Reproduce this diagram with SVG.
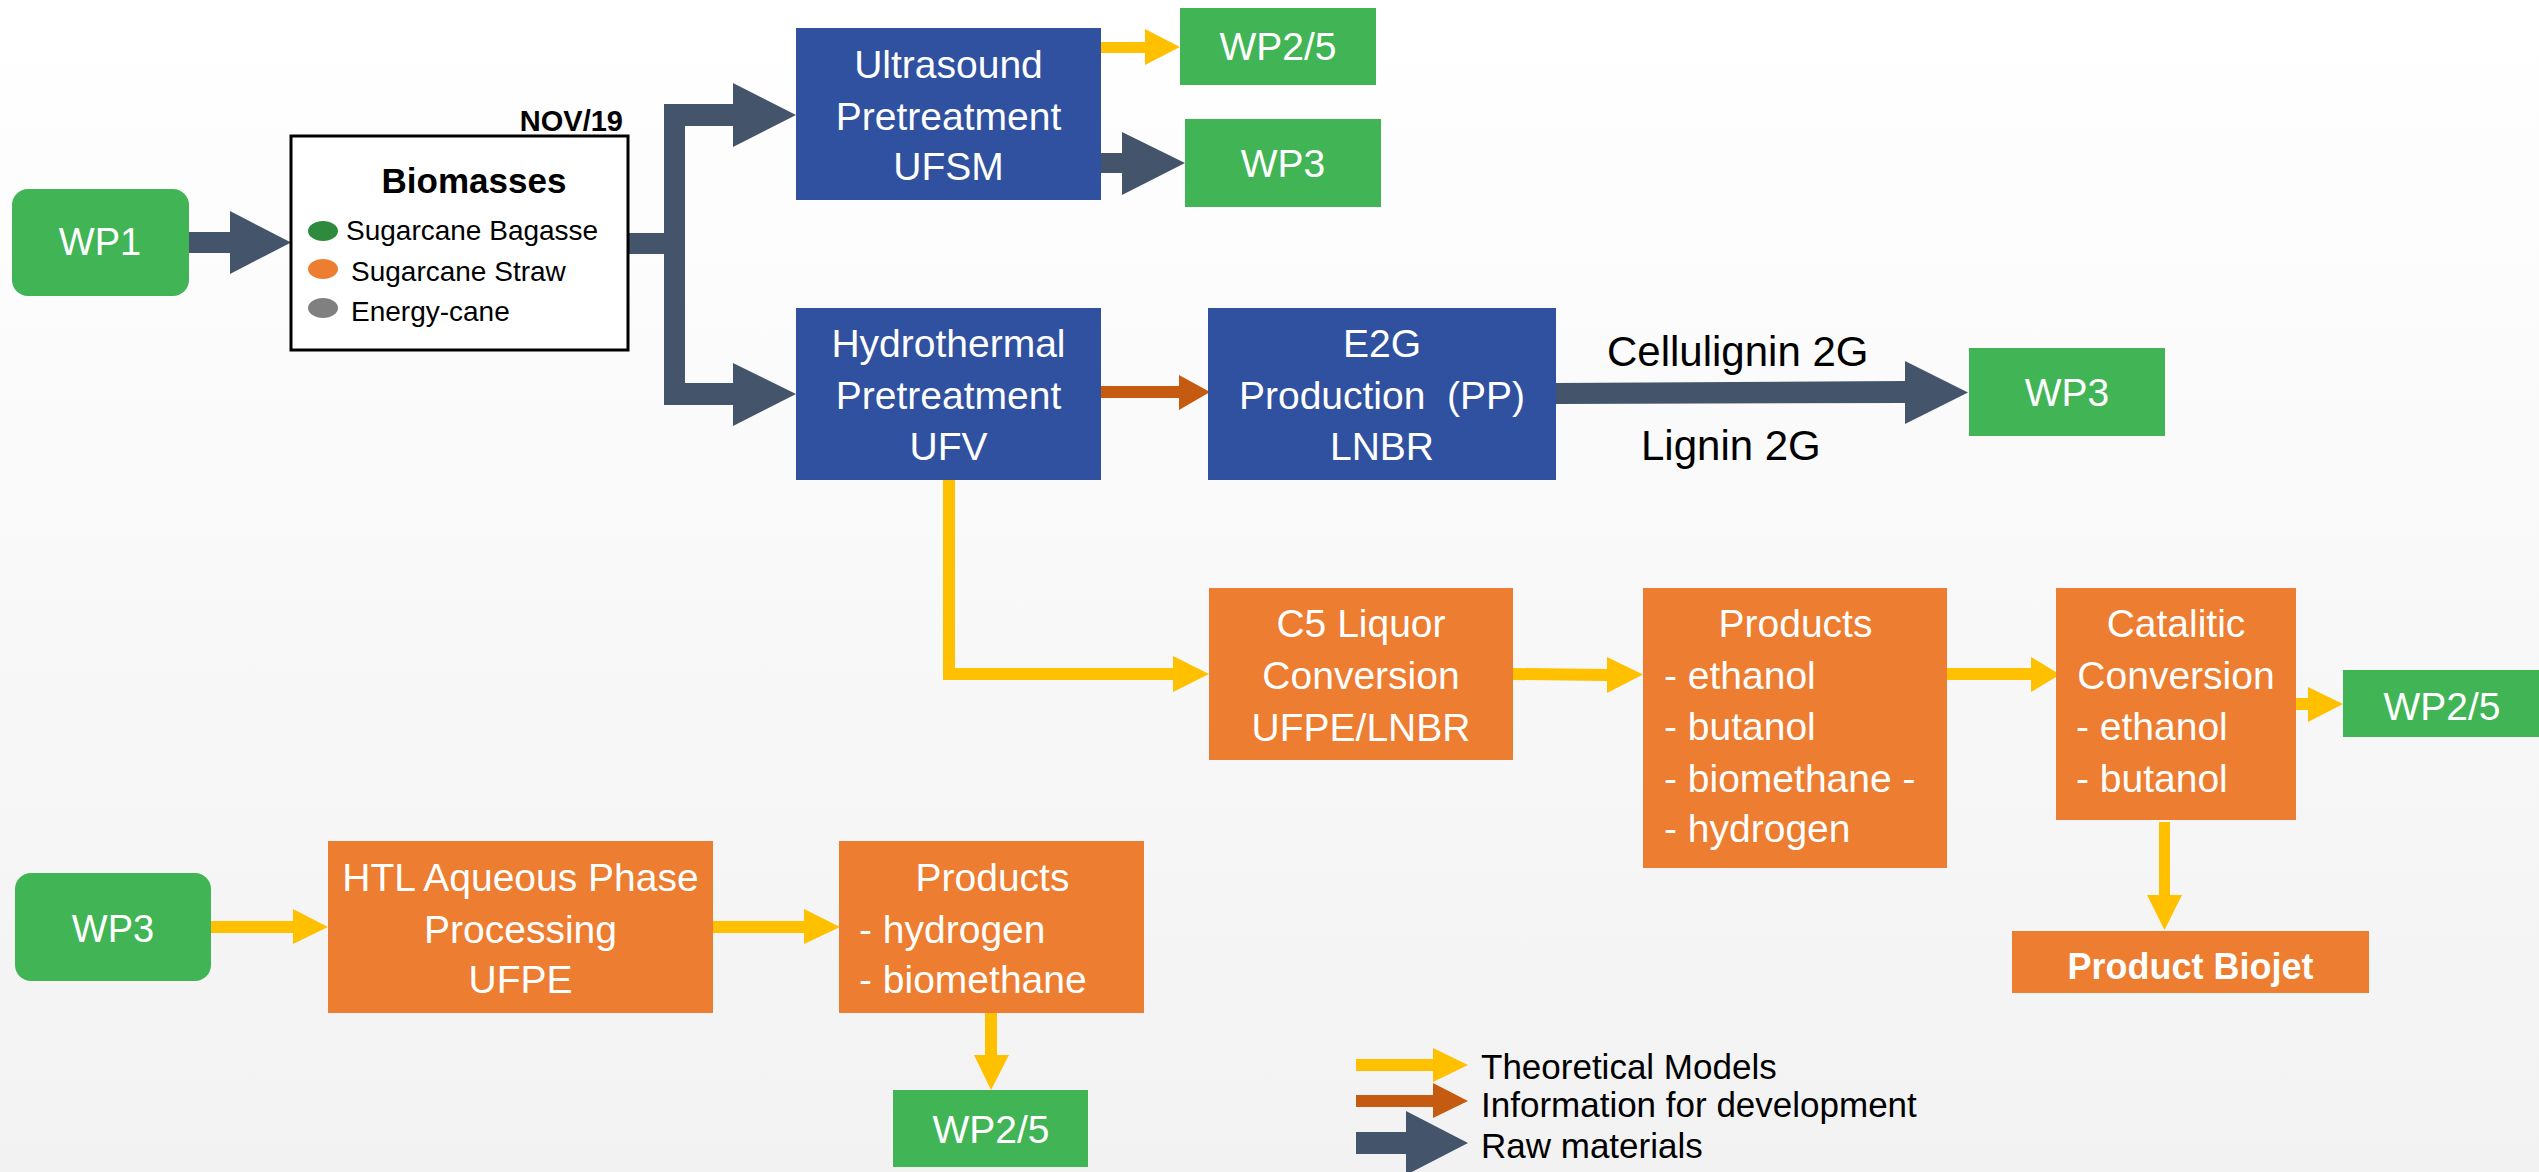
<svg xmlns="http://www.w3.org/2000/svg" width="2539" height="1172" viewBox="0 0 2539 1172">
  <defs>
    <linearGradient id="bg" x1="0" y1="0" x2="0" y2="1">
      <stop offset="0" stop-color="#FFFFFF"/>
      <stop offset="1" stop-color="#F2F2F2"/>
    </linearGradient>
    <style>
      .green { fill: #41B555; }
      .blue { fill: #30519F; }
      .orange { fill: #ED7D31; }
      .raw { fill: #44546A; }
      .theory { fill: #FFC000; }
      .info { fill: #C55A11; }
      text { font-family: "Liberation Sans", Arial, sans-serif; }
      .w { fill: #FFFFFF; font-size: 39px; }
      .wc { fill: #FFFFFF; font-size: 39px; text-anchor: middle; }
      .wp { fill: #FFFFFF; font-size: 38px; text-anchor: middle; }
      .blk { fill: #000000; }
      .leg { fill: #000000; font-size: 35px; }
    </style>
  </defs>

  <rect x="0" y="0" width="2539" height="1172" fill="url(#bg)"/>

  <!-- Block arrows -->
  <g id="connectors">
    <polygon class="raw" points="189,232 230,232 230,211 291,242.5 230,274 230,253 189,253"/>
    <path class="raw" d="M628,233 H664 V104 H733 V83 L796,115 L733,147 V126 H685 V383 H733 V363 L796,394 L733,426 V405 H664 V254 H628 Z"/>
    <polygon class="theory" points="1101,42 1145,42 1145,29 1180,47 1145,65 1145,53 1101,53"/>
    <polygon class="raw" points="1101,153 1122,153 1122,132 1185,163 1122,195 1122,173 1101,173"/>
    <polygon class="info" points="1101,386 1179,386 1179,375 1210,392 1179,410 1179,398 1101,398"/>
    <polygon class="raw" points="1556,383 1905,381 1905,361 1968,392.5 1905,424 1905,403 1556,404"/>
    <path class="theory" d="M943,480 H955 V668 H1173 V656 L1209,674 L1173,692 V680 H943 Z"/>
    <polygon class="theory" points="1513,668 1607,669 1607,657 1643,674.5 1607,693 1607,681 1513,680"/>
    <polygon class="theory" points="1947,668 2031,668 2031,657 2060,674.5 2031,692 2031,680 1947,680"/>
    <polygon class="theory" points="2295,698 2308,698 2308,687 2343,704 2308,722 2308,710 2295,710"/>
    <polygon class="theory" points="2159,822 2170,822 2170,895 2182,895 2164.5,930 2147,895 2159,895"/>
    <polygon class="theory" points="211,921 293,921 293,909 328,927 293,944 293,933 211,933"/>
    <polygon class="theory" points="713,921 804,921 804,909 840,927 804,944 804,933 713,933"/>
    <polygon class="theory" points="985,1013 997,1013 997,1055 1009,1055 991,1090 974,1055 985,1055"/>
  </g>

  <g id="wp1">
    <rect class="green" x="12" y="189" width="177" height="107" rx="16"/>
    <text class="wp" x="100" y="255">WP1</text>
  </g>

  <g id="biomasses">
    <rect x="291" y="136" width="337" height="214" fill="#FFFFFF" stroke="#000000" stroke-width="3"/>
    <text class="blk" x="623" y="131" font-size="29" font-weight="bold" text-anchor="end">NOV/19</text>
    <text class="blk" x="474" y="193" font-size="35" font-weight="bold" text-anchor="middle">Biomasses</text>
    <ellipse cx="323" cy="231" rx="15" ry="10" fill="#2E8B3E"/>
    <ellipse cx="323" cy="269" rx="15" ry="10" fill="#ED7D31"/>
    <ellipse cx="323" cy="308" rx="15" ry="10" fill="#808080"/>
    <text class="blk" x="346" y="240" font-size="28">Sugarcane Bagasse</text>
    <text class="blk" x="351" y="281" font-size="28">Sugarcane Straw</text>
    <text class="blk" x="351" y="321" font-size="28">Energy-cane</text>
  </g>

  <g id="ultrasound">
    <rect class="blue" x="796" y="28" width="305" height="172"/>
    <text class="wc" x="948.5" y="78">Ultrasound</text>
    <text class="wc" x="948.5" y="130">Pretreatment</text>
    <text class="wc" x="948.5" y="180">UFSM</text>
  </g>

  <g id="wp25-top">
    <rect class="green" x="1180" y="8" width="196" height="77"/>
    <text class="wc" x="1278" y="60">WP2/5</text>
  </g>

  <g id="wp3-top">
    <rect class="green" x="1185" y="119" width="196" height="88"/>
    <text class="wc" x="1283" y="177">WP3</text>
  </g>

  <g id="hydrothermal">
    <rect class="blue" x="796" y="308" width="305" height="172"/>
    <text class="wc" x="948.5" y="357">Hydrothermal</text>
    <text class="wc" x="948.5" y="409">Pretreatment</text>
    <text class="wc" x="948.5" y="460">UFV</text>
  </g>

  <g id="e2g">
    <rect class="blue" x="1208" y="308" width="348" height="172"/>
    <text class="wc" x="1382" y="357">E2G</text>
    <text class="wc" x="1382" y="409" xml:space="preserve">Production  (PP)</text>
    <text class="wc" x="1382" y="460">LNBR</text>
  </g>

  <g id="lignin-labels">
    <text class="blk" x="1607" y="366" font-size="42">Cellulignin 2G</text>
    <text class="blk" x="1641" y="460" font-size="42">Lignin 2G</text>
  </g>

  <g id="wp3-mid">
    <rect class="green" x="1969" y="348" width="196" height="88"/>
    <text class="wc" x="2067" y="406">WP3</text>
  </g>

  <g id="c5-liquor">
    <rect class="orange" x="1209" y="588" width="304" height="172"/>
    <text class="wc" x="1361" y="637">C5 Liquor</text>
    <text class="wc" x="1361" y="689">Conversion</text>
    <text class="wc" x="1361" y="741">UFPE/LNBR</text>
  </g>

  <g id="products-c5">
    <rect class="orange" x="1643" y="588" width="304" height="280"/>
    <text class="wc" x="1795.5" y="637">Products</text>
    <text class="w" x="1664" y="689">- ethanol</text>
    <text class="w" x="1664" y="740">- butanol</text>
    <text class="w" x="1664" y="792" xml:space="preserve">- biomethane -</text>
    <text class="w" x="1664" y="842">- hydrogen</text>
  </g>

  <g id="catalitic">
    <rect class="orange" x="2056" y="588" width="240" height="232"/>
    <text class="wc" x="2176" y="637">Catalitic</text>
    <text class="wc" x="2176" y="689">Conversion</text>
    <text class="w" x="2076" y="740">- ethanol</text>
    <text class="w" x="2076" y="792">- butanol</text>
  </g>

  <g id="wp25-right">
    <rect class="green" x="2343" y="670" width="196" height="67"/>
    <text class="wc" x="2442" y="720">WP2/5</text>
  </g>

  <g id="biojet">
    <rect class="orange" x="2012" y="931" width="357" height="62"/>
    <text x="2190.5" y="979" fill="#FFFFFF" font-size="36" font-weight="bold" text-anchor="middle">Product Biojet</text>
  </g>

  <g id="wp3-bottom">
    <rect class="green" x="15" y="873" width="196" height="108" rx="16"/>
    <text class="wp" x="113" y="942">WP3</text>
  </g>

  <g id="htl">
    <rect class="orange" x="328" y="841" width="385" height="172"/>
    <text class="wc" x="520.5" y="891">HTL Aqueous Phase</text>
    <text class="wc" x="520.5" y="943">Processing</text>
    <text class="wc" x="520.5" y="993">UFPE</text>
  </g>

  <g id="products-htl">
    <rect class="orange" x="839" y="841" width="305" height="172"/>
    <text class="wc" x="992.5" y="891">Products</text>
    <text class="w" x="859" y="943">- hydrogen</text>
    <text class="w" x="859" y="993">- biomethane</text>
  </g>

  <g id="wp25-bottom">
    <rect class="green" x="893" y="1090" width="195" height="77"/>
    <text class="wc" x="991" y="1143">WP2/5</text>
  </g>

  <!-- Legend -->
  <g id="legend">
    <polygon class="theory" points="1356,1059 1433,1059 1433,1048 1468,1065 1433,1082 1433,1071 1356,1071"/>
    <polygon class="info" points="1356,1095 1433,1095 1433,1083 1468,1101 1433,1118 1433,1107 1356,1107"/>
    <polygon class="raw" points="1356,1132 1406,1132 1406,1111 1468,1143 1406,1175 1406,1154 1356,1154"/>
    <text class="leg" x="1481" y="1079">Theoretical Models</text>
    <text class="leg" x="1481" y="1117">Information for development</text>
    <text class="leg" x="1481" y="1158">Raw materials</text>
  </g>
</svg>
